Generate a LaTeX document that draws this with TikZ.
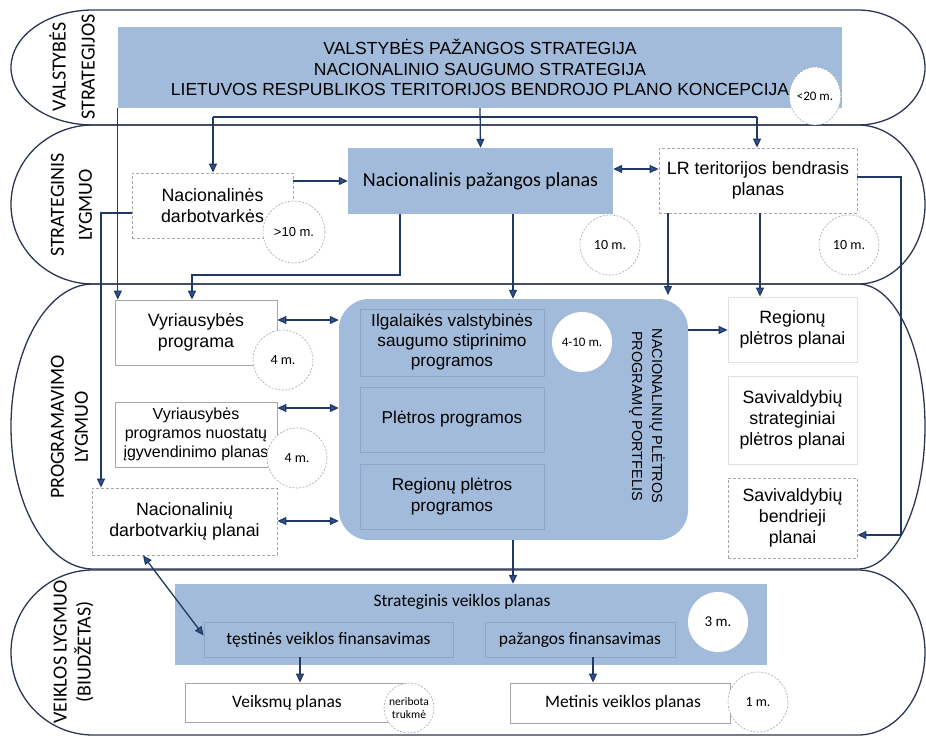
\documentclass[tikz,border=0pt]{standalone}
\usepackage{fontspec}
\setmainfont{Liberation Sans}
\newfontfamily\calfont{Carlito}
\usetikzlibrary{arrows.meta,shapes.geometric,calc}
\definecolor{navy}{HTML}{1F3864}
\definecolor{bandc}{HTML}{2B3650}
\definecolor{bfill}{HTML}{A2BBDA}
\definecolor{subb}{HTML}{8CA6C9}
\definecolor{tipc}{HTML}{2F5597}
\definecolor{grayb}{HTML}{A6A6A6}
\begin{document}
\begin{tikzpicture}[x=1pt,y=-1pt,
  band/.style={draw=bandc, line width=1.3pt},
  wbox/.style={draw=grayb, fill=white, line width=0.8pt, inner sep=0pt, align=center, font=\fontsize{17.8}{21}\selectfont},
  dbox/.style={wbox, dashed, dash pattern=on 3pt off 2pt},
  bbox/.style={fill=bfill, draw=none, inner sep=0pt, align=center, font=\fontsize{17}{20.5}\selectfont},
  sbox/.style={fill=bfill, draw=subb, line width=0.8pt, inner sep=0pt, align=center, font=\fontsize{17.2}{20}\selectfont},
  circd/.style={circle, draw=grayb, dash pattern=on 2pt off 1.5pt, line width=0.6pt, fill=white, inner sep=0pt, font=\calfont\fontsize{14}{16}\selectfont},
  circs/.style={circle, draw=none, fill=white, inner sep=0pt, font=\calfont\fontsize{14}{16}\selectfont},
  lvl/.style={rotate=90, align=center, font=\calfont\fontsize{20}{24}\selectfont},
  ln/.style={draw=navy, line width=1.3pt},
  arr/.style={ln, -{Triangle[length=9pt,width=8pt,fill=tipc]}},
  darr/.style={ln, {Triangle[length=9pt,width=8pt,fill=tipc]}-{Triangle[length=9pt,width=8pt,fill=tipc]}}
]
\useasboundingbox (0,0) rectangle (926,738);
% bands
\draw[band] (93,10) -- (858,10) arc[start angle=90,end angle=-90,x radius=67pt,y radius=57.5pt] -- (93,125) arc[start angle=270,end angle=90,x radius=82pt,y radius=57.5pt] -- cycle;
\draw[band] (93,125) -- (858,125) arc[start angle=90,end angle=-90,x radius=67pt,y radius=79.5pt] -- (93,284) arc[start angle=270,end angle=90,x radius=82pt,y radius=79.5pt] -- cycle;
\draw[band] (93,284) -- (858,284) arc[start angle=90,end angle=-90,x radius=67pt,y radius=142.5pt] -- (93,569) arc[start angle=270,end angle=90,x radius=82pt,y radius=142.5pt] -- cycle;
\draw[band] (93,570) -- (858,570) arc[start angle=90,end angle=-90,x radius=67pt,y radius=82.5pt] -- (93,735) arc[start angle=270,end angle=90,x radius=82pt,y radius=82.5pt] -- cycle;
% level labels
\node[lvl] (l1) at (72,67) {VALSTYBĖS\\[5pt]STRATEGIJOS};
\node[lvl] (l2) at (71.5,205) {STRATEGINIS\\[4pt]LYGMUO};
\node[lvl] (l3) at (69.5,427) {PROGRAMAVIMO\\LYGMUO};
\node[lvl] (l4) at (73.5,652) {VEIKLOS LYGMUO\\(BIUDŽETAS)};
% top
\node[bbox, minimum width=724pt, minimum height=81pt, font=\fontsize{17.5}{20.5}\selectfont] (top) at (480,67.5) {VALSTYBĖS PAŽANGOS STRATEGIJA\\NACIONALINIO SAUGUMO STRATEGIJA\\LIETUVOS RESPUBLIKOS TERITORIJOS BENDROJO PLANO KONCEPCIJA};
% strategic
\node[dbox, minimum width=161pt, minimum height=65pt] (nd) at (212.5,205.5) {Nacionalinės\\darbotvarkės};
\node[bbox, minimum width=265pt, minimum height=66pt, font=\calfont\fontsize{20}{24}\selectfont] (npp) at (480.5,181) {Nacionalinis pažangos planas};
\node[dbox, minimum width=198pt, minimum height=65pt] (lr) at (758,180.5) {LR teritorijos bendrasis\\planas};
% programming
\node[wbox, minimum width=162pt, minimum height=65pt] (vp) at (196,332.5) {Vyriausybės\\programa};
\node[wbox, minimum width=162pt, minimum height=65pt, font=\fontsize{16}{19}\selectfont] (vpn) at (196,434.5) {Vyriausybės\\programos nuostatų\\įgyvendinimo planas};
\node[dbox, minimum width=185pt, minimum height=67pt] (ndp) at (184.5,521.5) {Nacionalinių\\darbotvarkių planai};
\node[bbox, rounded corners=30pt, minimum width=349pt, minimum height=241pt] (port) at (513.5,419.5) {};
\node[sbox, minimum width=184pt, minimum height=67pt] (s1) at (452,342.5) {Ilgalaikės valstybinės\\saugumo stiprinimo\\programos};
\node[sbox, minimum width=184pt, minimum height=65pt] (s2) at (452,419.5) {Plėtros programos};
\node[sbox, minimum width=184pt, minimum height=65pt, font=\fontsize{17.2}{21}\selectfont] (s3) at (452,496.5) {Regionų plėtros\\programos};
\node[rotate=-90, align=center, font=\fontsize{14.5}{20}\selectfont] (pft) at (647,416) {NACIONALINIŲ PLĖTROS\\PROGRAMŲ PORTFELIS};
\node[wbox, draw=gray!25, minimum width=129pt, minimum height=65pt] (rpp) at (792.5,329.5) {Regionų\\plėtros planai};
\node[wbox, draw=gray!25, minimum width=129pt, minimum height=88pt] (ssp) at (792.5,420) {Savivaldybių\\strateginiai\\plėtros planai};
\node[dbox, minimum width=129pt, minimum height=80pt] (sbp) at (792.5,518) {Savivaldybių\\bendrieji\\planai};
% budget
\node[bbox, minimum width=592pt, minimum height=81pt] (svp) at (471,624.5) {};
\node[font=\calfont\fontsize{17.5}{20}\selectfont, inner sep=0pt] (svpt) at (462,602) {Strateginis veiklos planas};
\node[sbox, minimum width=249pt, minimum height=35pt, font=\calfont\fontsize{17.5}{20}\selectfont] (tvf) at (328.5,639.5) {tęstinės veiklos finansavimas};
\node[sbox, minimum width=190pt, minimum height=35pt, font=\calfont\fontsize{17.5}{20}\selectfont] (pf) at (580,639.5) {pažangos finansavimas};
\node[wbox, minimum width=225pt, minimum height=39pt] (vkp) at (297.5,702.5) {};
\node[font=\calfont\fontsize{17.5}{20}\selectfont, inner sep=0pt] (vkpt) at (287,703) {Veiksmų planas};
\node[wbox, minimum width=220pt, minimum height=40pt] (mvp) at (620,703) {};
\node[font=\calfont\fontsize{17.5}{20}\selectfont, inner sep=0pt] (mvpt) at (623,703) {Metinis veiklos planas};
% circles
\node[circd, ellipse, minimum width=48pt, minimum height=58pt, font=\calfont\fontsize{13}{15}\selectfont] (c20) at (815,96) {<20 m.};
\node[circd, minimum size=62pt, font=\fontsize{13}{15}\selectfont] (c10a) at (294,232) {>10 m.};
\node[circd, minimum size=60pt] (c10b) at (610,245) {10 m.};
\node[circd, minimum size=60pt] (c10c) at (849,245) {10 m.};
\node[circd, minimum size=60pt] (c4a) at (283,360) {4 m.};
\node[circd, minimum size=60pt] (c4b) at (297,458) {4 m.};
\node[circs, minimum size=60pt, font=\calfont\fontsize{13}{15}\selectfont] (c410) at (582,342) {4-10 m.};
\node[circs, minimum size=60pt, font=\calfont\fontsize{15}{17}\selectfont] (c3) at (718,622) {3 m.};
\node[circd, minimum size=50pt, font=\calfont\fontsize{11.5}{13}\selectfont, align=center] (cnt) at (409,708) {neribota\\trukmė};
\node[circd, minimum size=60pt] (c1) at (758,702) {1 m.};
% connectors
\draw[arr] (top.south west) -- (top.south west |- vp.north);
\draw[arr] (top.south) -- (npp.north);
\coordinate (hl) at (213,117);
\coordinate (hr) at (757,117);
\draw[ln] (hl) -- (hr);
\draw[arr] (hl) -- (hl |- nd.north);
\draw[arr] (hr) -- (hr |- lr.north);
\draw[arr] (nd.east |- npp.west) -- (npp.west);
\draw[darr] (npp.east |- 0,169) -- (lr.west |- 0,169);
\draw[arr] (nd.west |- 0,213) -| (ndp.north -| 101,0);
\draw[arr] (npp.south -| 400,0) -- (400,275) -| (vp.north -| 192,0);
\draw[arr] (npp.south -| 513,0) -- (port.north -| 513,0);
\coordinate (pc) at (668,295);
\draw[arr] (lr.south -| pc) -- (pc);
\draw[arr] (lr.south -| 760,0) -- (rpp.north -| 760,0);
\coordinate (rr) at (901,177);
\draw[arr] (lr.east |- rr) -- (rr) |- (sbp.east |- 0,535);
\draw[arr] (port.east |- 0,330) -- (rpp.west |- 0,330);
\draw[darr] (vp.east |- 0,320) -- (port.west |- 0,320);
\draw[darr] (vpn.east |- 0,408) -- (port.west |- 0,408);
\draw[darr] (ndp.east |- 0,521) -- (port.west |- 0,521);
\draw[arr] (port.south -| 513,0) -- (svp.north -| 513,0);
\draw[darr] (ndp.south -| 143,0) -- ([yshift=4pt]tvf.west);
\draw[arr] (tvf.south -| 300,0) -- (vkp.north -| 300,0);
\draw[arr] (pf.south -| 593,0) -- (mvp.north -| 593,0);
\end{tikzpicture}
\end{document}
